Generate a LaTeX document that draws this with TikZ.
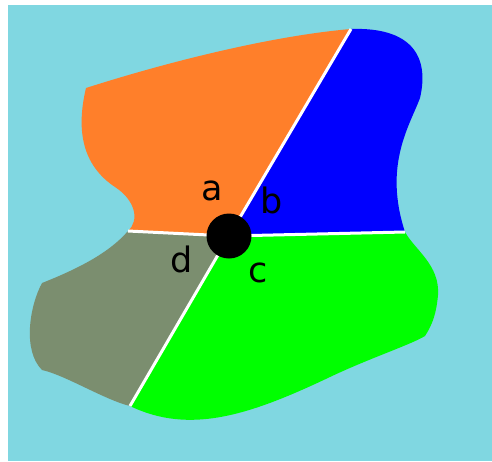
\documentclass[tikz,border=0pt]{standalone}
\usepackage{fontspec}
\setmainfont{DejaVu Sans}
\definecolor{skyback}{RGB}{128,215,225}
\definecolor{regorange}{RGB}{255,127,42}
\definecolor{regblue}{RGB}{0,0,255}
\definecolor{reggreen}{RGB}{0,255,0}
\definecolor{reggray}{RGB}{123,142,111}
\tikzset{
  border/.style={white,line width=3pt},
  lbl/.style={anchor=base,font=\fontsize{35}{40}\selectfont,inner sep=0pt}
}
\begin{document}
\begin{tikzpicture}[x=1pt,y=-1pt]
\useasboundingbox (0,0) rectangle (492,461);

% Background
\fill[skyback] (8,5) rectangle (492,461);

% Points
\coordinate (ctr) at (229,236);
\coordinate (pab) at (351,29);
\coordinate (pbc) at (405,232);
\coordinate (pcd) at (130,406);
\coordinate (pda) at (128,231);

% Regions
\fill[regorange] (ctr) -- (pda)
    .. controls (140,220) and (135,200) .. (115,187)
    .. controls (82,165) and (76,130) .. (86,88)
    .. controls (180,58) and (280,35) .. (pab) -- cycle;
\fill[regblue] (ctr) -- (pab)
    .. controls (410,27) and (430,55) .. (420,98)
    .. controls (410,125) and (383,165) .. (pbc) -- cycle;
\fill[reggreen] (ctr) -- (pbc)
    .. controls (415,250) and (440,265) .. (438,295)
    .. controls (436,318) and (430,328) .. (425,336)
    .. controls (410,345) and (370,358) .. (330,377)
    .. controls (250,415) and (190,435) .. (pcd) -- cycle;
\fill[reggray] (ctr) -- (pcd)
    .. controls (105,400) and (65,375) .. (42,370)
    .. controls (22,350) and (30,305) .. (42,283)
    .. controls (80,268) and (110,252) .. (pda) -- cycle;

% Borders
\draw[border] (ctr) -- (pab);
\draw[border] (ctr) -- (pbc);
\draw[border] (ctr) -- (pcd);
\draw[border] (ctr) -- (pda);

% Hub
\node[circle,fill=black,minimum size=45pt,inner sep=0pt] (hub) at (ctr) {};

% Labels
\node[lbl] (la) at (212,200) {a};
\node[lbl] (lb) at (272,213) {b};
\node[lbl] (lc) at (258,282) {c};
\node[lbl] (ld) at (182,272) {d};

\end{tikzpicture}
\end{document}
